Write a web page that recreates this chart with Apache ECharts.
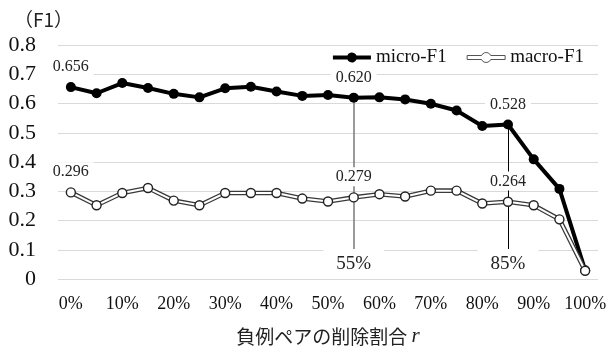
<!DOCTYPE html>
<html>
<head>
<meta charset="utf-8">
<script src="https://cdn.jsdelivr.net/npm/echarts@6/dist/echarts.min.js"></script>
<style>
  html, body { margin: 0; padding: 0; background: #fff; }
  #chart { width: 611px; height: 352px; }
</style>
</head>
<body>
<div id="chart"></div>
<script>
// Removal ratio r of negative pairs (x categories)
const categories = ['0%','5%','10%','15%','20%','25%','30%','35%','40%','45%','50%',
  '55%','60%','65%','70%','75%','80%','85%','90%','95%','100%'];
const xTickLabels = ['0%','10%','20%','30%','40%','50%','60%','70%','80%','90%','100%'];
const yTicks = [0, 0.1, 0.2, 0.3, 0.4, 0.5, 0.6, 0.7, 0.8];

// F1 scores per removal ratio
const microF1 = [0.656, 0.635, 0.670, 0.653, 0.633, 0.621, 0.652, 0.657, 0.641, 0.626, 0.629,
  0.620, 0.621, 0.614, 0.599, 0.576, 0.523, 0.528, 0.409, 0.308, 0.030];
const macroF1 = [0.296, 0.252, 0.294, 0.311, 0.268, 0.252, 0.294, 0.294, 0.294, 0.275, 0.265,
  0.279, 0.290, 0.282, 0.302, 0.302, 0.258, 0.264, 0.252, 0.204, 0.028];

// Points whose values are written on the chart
const labelledIndex = [0, 11, 17];
// Reference ratios marked with vertical guides
const guideRatios = ['55%', '85%'];
const guideColors = ['#808080', '#000000'];
const guideWidths = [1.6, 1];

const SERIF = '"Liberation Serif", "Times New Roman", serif';
const SANS_JP = '"Noto Sans CJK JP", "Noto Sans", sans-serif';

const valueLabel = {
  show: true,
  position: 'top',
  distance: 6,
  fontFamily: SERIF,
  fontSize: 16,
  color: '#222',
  backgroundColor: '#fff',
  padding: [2, 5, 1, 5],
  formatter: p => p.value.toFixed(3)
};

function withLabels(values) {
  return values.map((v, i) => labelledIndex.includes(i) ? { value: v, label: valueLabel } : v);
}

// legend icons: a bar with a circle on it, drawn as one outline
const legendIcon = 'path://M0,-2 L14.42,-2 A5,5 0 0 1 23.58,-2 L38,-2 L38,2 L23.58,2 A5,5 0 0 1 14.42,2 L0,2 Z';

const chart = echarts.init(document.getElementById('chart'), null, { renderer: 'canvas' });

chart.setOption({
  animation: false,
  backgroundColor: '#fff',
  grid: { left: 58, right: 13, top: 45, bottom: 71 },
  title: {
    text: '（F1）',
    left: 9,
    top: 5,
    textStyle: { fontFamily: SANS_JP, fontSize: 19, fontWeight: 'normal', color: '#222' }
  },
  legend: {
    right: 22,
    top: 43,
    itemWidth: 38,
    itemHeight: 10,
    itemGap: 20,
    textStyle: { fontFamily: SERIF, fontSize: 19, color: '#111' },
    data: [
      { name: 'micro-F1', icon: legendIcon, itemStyle: { color: '#000', borderWidth: 0 } },
      { name: 'macro-F1', icon: legendIcon, itemStyle: { color: '#fff', borderColor: '#555', borderWidth: 1 } }
    ]
  },
  xAxis: {
    type: 'category',
    data: categories,
    boundaryGap: true,
    axisLine: { show: false },
    axisTick: { show: false },
    axisLabel: {
      interval: (i, v) => xTickLabels.includes(v),
      margin: 16,
      fontFamily: SERIF,
      fontSize: 18,
      color: '#111'
    },
    name: '{a|負例ペアの削除割合 }{r|r}',
    nameLocation: 'middle',
    nameGap: 47,
    nameTextStyle: {
      rich: {
        a: { fontFamily: SANS_JP, fontSize: 19, color: '#222' },
        r: { fontFamily: SERIF, fontSize: 21, fontStyle: 'italic', color: '#222' }
      }
    }
  },
  yAxis: {
    type: 'value',
    min: yTicks[0],
    max: yTicks[yTicks.length - 1],
    interval: 0.1,
    axisLine: { show: false },
    axisTick: { show: false },
    splitLine: { lineStyle: { color: '#d9d9d9', width: 1 } },
    axisLabel: {
      margin: 22,
      fontFamily: SERIF,
      fontSize: 22,
      color: '#111',
      formatter: v => String(Math.round(v * 10) / 10)
    }
  },
  series: [
    {
      name: 'micro-F1',
      type: 'line',
      data: withLabels(microF1),
      symbol: 'circle',
      symbolSize: 10,
      lineStyle: { color: '#000', width: 4 },
      itemStyle: { color: '#000' },
      z: 3,
      markLine: {
        silent: true,
        symbol: ['none', 'none'],
        label: { show: false },
        z: 1,
        data: guideRatios.map((r, k) => [
          { coord: [r, 0], lineStyle: { color: guideColors[k], width: guideWidths[k], type: 'solid' } },
          { coord: [r, microF1[categories.indexOf(r)]] }
        ])
      },
      markPoint: {
        silent: true,
        symbol: 'rect',
        symbolSize: 0,
        z: 2,
        data: guideRatios.map(r => ({
          coord: [r, 0],
          label: {
            show: true,
            position: 'inside',
            offset: [0, -15],
            formatter: r,
            fontFamily: SERIF,
            fontSize: 19,
            color: '#222',
            backgroundColor: '#fff',
            padding: [8, 13, 3, 13]
          }
        }))
      }
    },
    {
      // dark outline under the macro-F1 line
      name: 'macro-F1-outline',
      type: 'line',
      data: macroF1,
      symbol: 'none',
      silent: true,
      lineStyle: { color: '#3a3a3a', width: 4.6 },
      z: 4
    },
    {
      name: 'macro-F1',
      type: 'line',
      data: withLabels(macroF1),
      symbol: 'circle',
      symbolSize: 9,
      lineStyle: { color: '#fff', width: 2 },
      itemStyle: { color: '#fff', borderColor: '#222', borderWidth: 1.4 },
      z: 5
    }
  ]
});
</script>
</body>
</html>
